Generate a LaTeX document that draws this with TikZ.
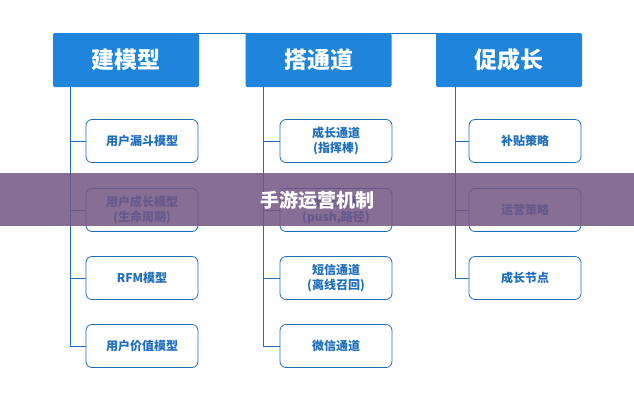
\documentclass[tikz,border=0pt]{standalone}
\usepackage{fontspec}
\setmainfont{Noto Sans CJK SC}
\usetikzlibrary{positioning}
\definecolor{hdblue}{RGB}{30,132,220}
\definecolor{kidblue}{RGB}{30,110,190}
\definecolor{band}{RGB}{115,85,130}
\begin{document}
\begin{tikzpicture}[x=1pt,y=-1pt,
    head/.style = {fill=hdblue, text=white, rounded corners=2pt,
      minimum width=146pt, minimum height=54pt, font=\bfseries\fontsize{23}{26}\selectfont},
    kid/.style = {draw=kidblue, line width=0.8pt, fill=white, text=kidblue, rounded corners=6pt,
      align=center, minimum width=112pt, minimum height=43pt,
      font=\bfseries\fontsize{12}{15}\selectfont},
    link/.style = {draw=kidblue, line width=0.8pt}]
    \useasboundingbox (0,0) rectangle (634,400);
    \fill[white] (0,0) rectangle (634,400);
    \draw[link] (126,33) -- (509,33);
    \node[head] (model) at (126,60) {建模型};
    \node[head] (chan) at (318.5,60) {搭通道};
    \node[head] (grow) at (509,60) {促成长};
    % columns
    \coordinate (modelend) at (70,346);
    \coordinate (chanend) at (263,346);
    \coordinate (growend) at (455,278);
    \draw[link] (70,87) -- (modelend);
    \draw[link] (263,87) -- (chanend);
    \draw[link] (455,87) -- (growend);
    \foreach \name/\y/\txt in {m1/141/用户漏斗模型, m2/210/{用户成长模型\\(生命周期)},
        m3/278/RFM模型, m4/346/用户价值模型} {
      \node[kid] (\name) at (142,\y) {\txt};
      \draw[link] (70,\y) -- (\name.west);
    }
    \foreach \name/\y/\txt in {c1/141/{成长通道\\(指挥棒)}, c2/210/{推送通道\\(push,路径)},
        c3/278/{短信通道\\(离线召回)}, c4/346/微信通道} {
      \node[kid] (\name) at (336,\y) {\txt};
      \draw[link] (263,\y) -- (\name.west);
    }
    \foreach \name/\y/\txt in {g1/141/补贴策略, g2/210/运营策略, g3/278/成长节点} {
      \node[kid] (\name) at (525,\y) {\txt};
      \draw[link] (455,\y) -- (\name.west);
    }
    % title band
    \fill[band, opacity=0.85] (0,173) rectangle (634,226);
    \node[text=white, font=\bfseries\fontsize{19}{22}\selectfont] (title) at (317,200) {手游运营机制};
\end{tikzpicture}
\end{document}
